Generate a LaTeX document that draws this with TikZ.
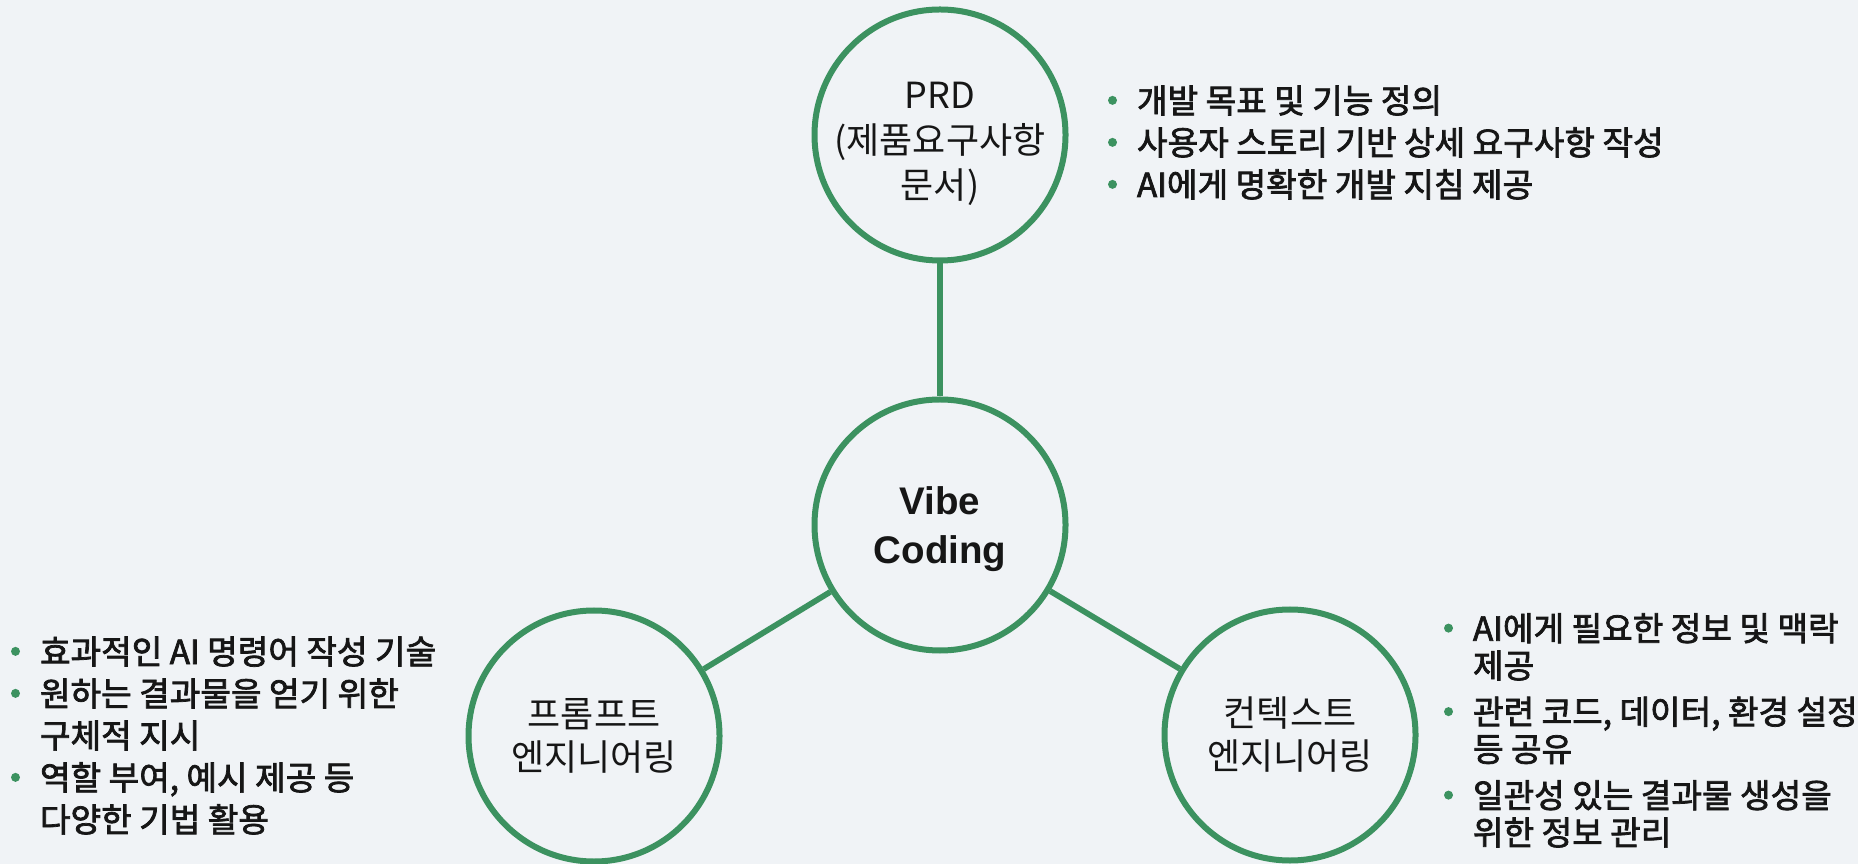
\documentclass[tikz,border=0pt]{standalone}
\usepackage{fontspec}
\setmainfont{Noto Sans CJK KR}
\newfontfamily\listfont{Noto Sans CJK KR}[FakeBold=2.2]
\newfontfamily\titlefont{Liberation Sans}
\definecolor{vgreen}{RGB}{60,146,96}
\definecolor{canvas}{RGB}{240,243,246}
\definecolor{ink}{RGB}{22,22,22}
% green dot followed by the hanging indent of a list item
\newcommand\bul{\makebox[11.6pt][l]{\tikz[baseline={(0,-0.38em)}]\fill[vgreen] (0,0) circle (1.8pt);}}
\newcommand\cont{\hspace*{11.6pt}}
\begin{document}
\begin{tikzpicture}[x=0.4pt,y=-0.4pt,
  hub/.style={circle, draw=vgreen, line width=2.4pt, fill=canvas,
    minimum size=100.4pt, inner sep=0pt},
  hubtext/.style={inner sep=0pt, align=center, text=ink,
    font=\fontsize{14.4}{17.2}\selectfont},
  link/.style={draw=vgreen, line width=2.3pt},
  notes/.style={anchor=base west, inner sep=0pt, align=left, text=ink,
    font=\listfont\fontsize{13.3}{16.8}\selectfont}]
\fill[canvas] (0,0) rectangle (1858,864);
\useasboundingbox (0,0) rectangle (1858,864);

% the four circles
\node[hub] (prd) at (940,135) {};
\node[hub] (vibe) at (940,525) {};
\node[hub] (prompt) at (594,736) {};
\node[hub] (context) at (1290,735) {};

% circle captions
\node[hubtext, font=\fontsize{14.4}{18}\selectfont] (prdtext) at (940,144) {PRD\\(제품요구사항\\문서)};
\node[hubtext, font=\titlefont\bfseries\fontsize{15.4}{19.6}\selectfont] (vibetext) at (940,529) {Vibe\\Coding};
\node[hubtext] (prompttext) at (594,736) {프롬프트\\엔지니어링};
\node[hubtext] (contexttext) at (1290,735) {컨텍스트\\엔지니어링};

% spokes from the hub
\draw[link] (prd) -- (vibe);
\draw[link] (vibe) -- (prompt);
\draw[link] (vibe) -- (context);

% bullet notes (anchored on the baseline of their last line)
\node[notes] (prdnotes) at (1107.5,197) {\bul 개발 목표 및 기능 정의\\
\bul 사용자 스토리 기반 상세 요구사항 작성\\
\bul AI에게 명확한 개발 지침 제공};

\node[notes] (promptnotes) at (10.5,832) {\bul 효과적인 AI 명령어 작성 기술\\
\bul 원하는 결과물을 얻기 위한\\
\cont 구체적 지시\\
\bul 역할 부여, 예시 제공 등\\
\cont 다양한 기법 활용};

\node[notes, font=\listfont\fontsize{13.3}{14.9}\selectfont] (contextnotes) at (1443.5,845) {\bul AI에게 필요한 정보 및 맥락\\
\cont 제공\\[3.6pt]
\bul 관련 코드, 데이터, 환경 설정\\
\cont 등 공유\\[3.6pt]
\bul 일관성 있는 결과물 생성을\\
\cont 위한 정보 관리};
\end{tikzpicture}
\end{document}
